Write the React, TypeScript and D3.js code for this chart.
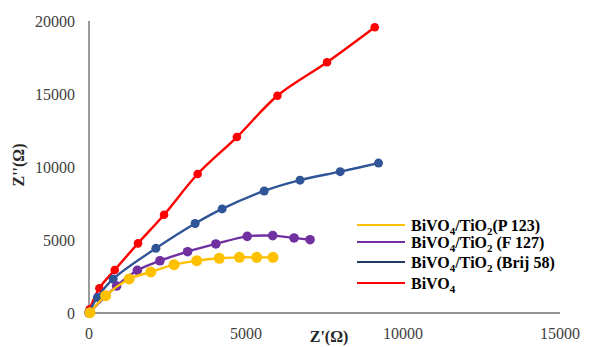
import React from "react";
import * as d3 from "d3";

const xTicks = [0, 5000, 10000, 15000];
const yTicks = [0, 5000, 10000, 15000, 20000];

const bivo4X = [20, 330, 820, 1560, 2390, 3460, 4710, 6000, 7580, 9100];
const bivo4Y = [250, 1700, 2950, 4770, 6730, 9520, 12050, 14880, 17170, 19570];

const brijX = [0, 270, 770, 2130, 3380, 4240, 5580, 6720, 8000, 9220];
const brijY = [70, 1070, 2330, 4430, 6130, 7130, 8360, 9100, 9680, 10270];

const f127X = [0, 880, 1540, 2260, 3140, 4040, 5040, 5850, 6530, 7040];
const f127Y = [0, 1850, 2920, 3580, 4200, 4730, 5250, 5300, 5140, 5020];

const p123X = [30, 530, 1280, 1970, 2710, 3430, 4150, 4790, 5340, 5860];
const p123Y = [20, 1190, 2330, 2810, 3310, 3580, 3750, 3810, 3810, 3810];

type S = { key: string; xs: number[]; ys: number[]; color: string; r: number };

export default function App() {
  const x = d3.scaleLinear().domain([0, 15000]).range([89, 560]);
  const y = d3.scaleLinear().domain([0, 20000]).range([313, 21]);

  const series: S[] = [
    { key: "red", xs: bivo4X, ys: bivo4Y, color: "#FF0000", r: 4.3 },
    { key: "blue", xs: brijX, ys: brijY, color: "#2F5597", r: 4.5 },
    { key: "purple", xs: f127X, ys: f127Y, color: "#7030A0", r: 4.8 },
    { key: "yellow", xs: p123X, ys: p123Y, color: "#FFC000", r: 5.5 },
  ];

  const line = d3
    .line<[number, number]>()
    .x((d) => x(d[0]))
    .y((d) => y(d[1]))
    .curve(d3.curveCatmullRom.alpha(0.5));

  const tStyle = { fontFamily: '"Liberation Serif"' } as React.CSSProperties;

  const legendRows = [
    { color: "#FFC000", ly: 225, ty: 231, parts: ["BiVO", "4", "/TiO", "2", "(P 123)"] },
    { color: "#7030A0", ly: 242, ty: 248, parts: ["BiVO", "4", "/TiO", "2", " (F 127)"] },
    { color: "#203864", ly: 262, ty: 268, parts: ["BiVO", "4", "/TiO", "2", " (Brij 58)"] },
    { color: "#FF0000", ly: 283, ty: 289, parts: ["BiVO", "4"] },
  ];

  return (
    <svg width={601} height={347} style={{ position: "absolute", left: 0, top: 0, background: "#fff" }}>
      <rect x={0} y={0} width={601} height={347} fill="#fff" />
      <line x1={x(0)} x2={x(0)} y1={y(20000)} y2={y(0)} stroke="#595959" strokeWidth={1.2} />
      <line x1={x(0)} x2={x(15000)} y1={y(0)} y2={y(0)} stroke="#262626" strokeWidth={1.2} />
      {yTicks.map((t) => (
        <text key={"y" + t} x={75} y={y(t)} dy="0.35em" textAnchor="end" style={tStyle} fontSize={16} fill="#404040">
          {t}
        </text>
      ))}
      {xTicks.map((t) => (
        <text key={"x" + t} x={x(t)} y={333} dy="0.35em" textAnchor="middle" style={tStyle} fontSize={16} fill="#404040">
          {t}
        </text>
      ))}
      <text x={329} y={342} textAnchor="middle" style={tStyle} fontSize={16} fontWeight="bold" fill="#262626">
        Z'(Ω)
      </text>
      <text
        transform={`translate(18,165) rotate(-90)`}
        textAnchor="middle"
        dy="0.35em"
        style={tStyle}
        fontSize={16}
        fontWeight="bold"
        fill="#262626"
      >
        Z''(Ω)
      </text>
      {series.map((s) => {
        const pts: [number, number][] = s.xs.map((v, i) => [v, s.ys[i]]);
        return (
          <g key={s.key}>
            <path d={line(pts) || ""} fill="none" stroke={s.color} strokeWidth={2.4} />
            {pts.map((p, i) => (
              <circle key={i} cx={x(p[0])} cy={y(p[1])} r={s.r} fill={s.color} />
            ))}
          </g>
        );
      })}
      {legendRows.map((row, i) => (
        <g key={i}>
          <line x1={357} x2={405} y1={row.ly} y2={row.ly} stroke={row.color} strokeWidth={2} />
          <text x={411} y={row.ty} style={tStyle} fontSize={16} fontWeight="bold" fill="#000">
            {row.parts.map((p, j) =>
              j % 2 === 1 ? (
                <tspan key={j} fontSize={11} dy={4}>
                  {p}
                </tspan>
              ) : (
                <tspan key={j} dy={j === 0 ? 0 : -4}>
                  {p}
                </tspan>
              )
            )}
          </text>
        </g>
      ))}
    </svg>
  );
}
